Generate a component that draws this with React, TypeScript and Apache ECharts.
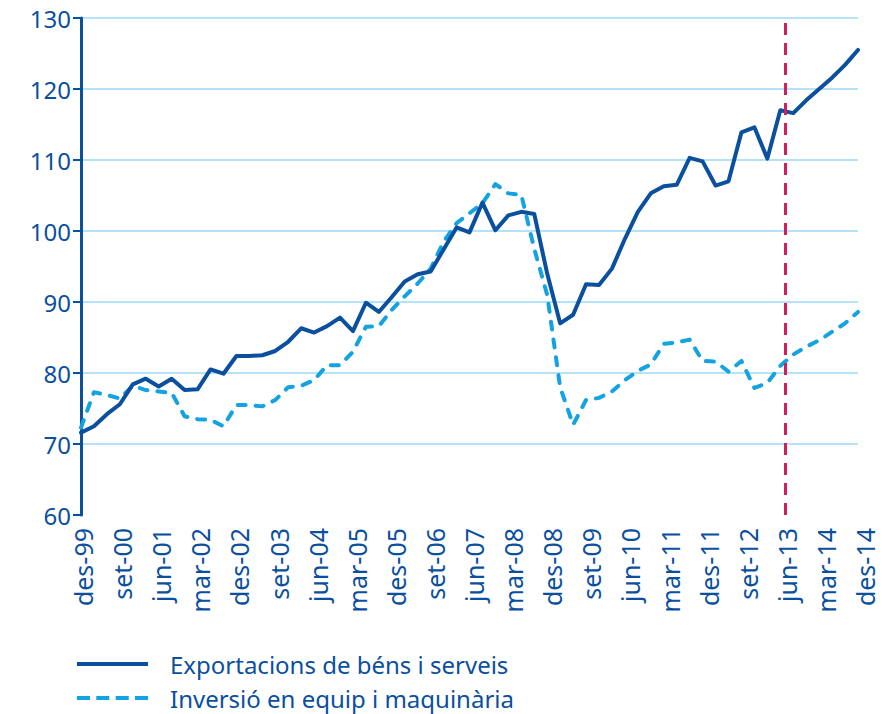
import React, { useEffect, useRef } from "react";
import * as echarts from "echarts";

const quarterLabels: string[] = [
  "des-99",
  "mar-00", "jun-00", "set-00", "des-00",
  "mar-01", "jun-01", "set-01", "des-01",
  "mar-02", "jun-02", "set-02", "des-02",
  "mar-03", "jun-03", "set-03", "des-03",
  "mar-04", "jun-04", "set-04", "des-04",
  "mar-05", "jun-05", "set-05", "des-05",
  "mar-06", "jun-06", "set-06", "des-06",
  "mar-07", "jun-07", "set-07", "des-07",
  "mar-08", "jun-08", "set-08", "des-08",
  "mar-09", "jun-09", "set-09", "des-09",
  "mar-10", "jun-10", "set-10", "des-10",
  "mar-11", "jun-11", "set-11", "des-11",
  "mar-12", "jun-12", "set-12", "des-12",
  "mar-13", "jun-13", "set-13", "des-13",
  "mar-14", "jun-14", "set-14", "des-14",
];

const exportsName = "Exportacions de béns i serveis";
const exportsValues: number[] = [
  71.6, 72.5, 74.2, 75.6, 78.4, 79.2, 78.1, 79.2, 77.6, 77.7,
  80.5, 79.9, 82.4, 82.4, 82.5, 83.1, 84.4, 86.3, 85.7, 86.6,
  87.8, 85.9, 89.9, 88.6, 90.7, 92.9, 93.9, 94.3, 97.4, 100.5,
  99.8, 104.0, 100.1, 102.2, 102.7, 102.4, 94.0, 87.0, 88.2, 92.5,
  92.4, 94.7, 98.9, 102.7, 105.3, 106.3, 106.5, 110.3, 109.8, 106.4,
  107.0, 113.9, 114.6, 110.2, 117.0, 116.6, 118.4, 120.0, 121.6, 123.4,
  125.5,
];

const investmentName = "Inversió en equip i maquinària";
const investmentValues: number[] = [
  72.3, 77.3, 76.9, 76.4, 78.2, 77.6, 77.4, 77.2, 73.9, 73.5,
  73.4, 72.5, 75.5, 75.5, 75.3, 76.2, 78.0, 78.2, 79.0, 81.1,
  81.1, 83.0, 86.5, 86.6, 88.9, 90.8, 92.6, 94.7, 98.5, 101.1,
  102.5, 103.9, 106.6, 105.3, 105.1, 97.5, 91.0, 78.0, 72.7, 76.2,
  76.5, 77.4, 79.0, 80.3, 81.2, 84.1, 84.3, 84.7, 81.7, 81.6,
  80.2, 81.7, 77.9, 78.6, 81.0, 82.6, 83.7, 84.6, 85.8, 87.0,
  88.6,
];

// position (in quarters from des-99) of the forecast divider
const forecastStart = 54.4;

const DARK = "#0b4f9f";
const LIGHT = "#14a3e2";
const GRID = "#b5e2f6";
const RED = "#d21f5c";
const FONT = "Noto Sans";

const SOLID_ICON = "path://M0,0H71V4H0Z";
const DASH_ICON =
  "path://M0,0H13V4H0Z M19.3,0H32.3V4H19.3Z M38.7,0H51.7V4H38.7Z M58,0H71V4H58Z";

export default function App() {
  const ref = useRef<HTMLDivElement>(null);

  useEffect(() => {
    if (!ref.current) return;
    const chart = echarts.init(ref.current, undefined, { renderer: "svg" });
    const pairs = (vals: number[]) => vals.map((v, i) => [i, v]);
    chart.setOption({
      animation: false,
      backgroundColor: "#ffffff",
      textStyle: { fontFamily: FONT },
      grid: [
        { left: 81, right: 27, top: 18, bottom: 199 },
        { left: 83, right: 20, top: 18, bottom: 199 },
      ],
      xAxis: [
        { gridIndex: 0, type: "value", min: 0, max: quarterLabels.length - 1, show: false },
        {
          gridIndex: 1,
          type: "category",
          data: quarterLabels,
          boundaryGap: false,
          axisLine: { show: false },
          axisTick: { show: false },
          splitLine: { show: false },
          axisLabel: {
            interval: 2,
            rotate: 90,
            margin: 13,
            fontSize: 25,
            lineHeight: 20,
            color: DARK,
            fontFamily: FONT,
          },
        },
      ],
      yAxis: [
        {
          gridIndex: 0,
          type: "value",
          min: 60,
          max: 130,
          interval: 10,
          axisLine: { show: true, lineStyle: { color: DARK, width: 3 } },
          axisTick: { show: true, length: 8, lineStyle: { color: DARK, width: 2 } },
          axisLabel: { fontSize: 24, color: DARK, margin: 10, fontFamily: FONT },
          splitLine: { show: true, showMinLine: false, lineStyle: { color: GRID, width: 2 } },
        },
        { gridIndex: 1, type: "value", min: 0, max: 1, show: false },
      ],
      legend: {
        orient: "vertical",
        left: 77,
        top: 652,
        padding: 0,
        itemWidth: 71,
        itemHeight: 4,
        itemGap: 10,
        selectedMode: false,
        data: [
          { name: exportsName, icon: SOLID_ICON },
          { name: investmentName, icon: DASH_ICON },
        ],
        textStyle: {
          fontSize: 24,
          lineHeight: 24,
          color: DARK,
          fontFamily: FONT,
          padding: [0, 0, 0, 17],
        },
      },
      series: [
        {
          name: exportsName,
          type: "line",
          xAxisIndex: 0,
          yAxisIndex: 0,
          data: pairs(exportsValues),
          symbol: "none",
          z: 3,
          lineStyle: { color: DARK, width: 4, cap: "round", join: "round" },
          itemStyle: { color: DARK },
          emphasis: { disabled: true },
          markLine: {
            silent: true,
            symbol: ["none", "none"],
            label: { show: false },
            lineStyle: { color: RED, width: 3, type: [12, 8] },
            data: [{ xAxis: forecastStart }],
          },
        },
        {
          name: investmentName,
          type: "line",
          xAxisIndex: 0,
          yAxisIndex: 0,
          data: pairs(investmentValues),
          symbol: "none",
          z: 2,
          lineStyle: { color: LIGHT, width: 4, type: [8, 10], cap: "round", join: "round" },
          itemStyle: { color: LIGHT },
          emphasis: { disabled: true },
        },
      ],
    });
    return () => chart.dispose();
  }, []);

  return (
    <div
      ref={ref}
      style={{ position: "fixed", left: 0, top: 0, width: 885, height: 714 }}
    />
  );
}
